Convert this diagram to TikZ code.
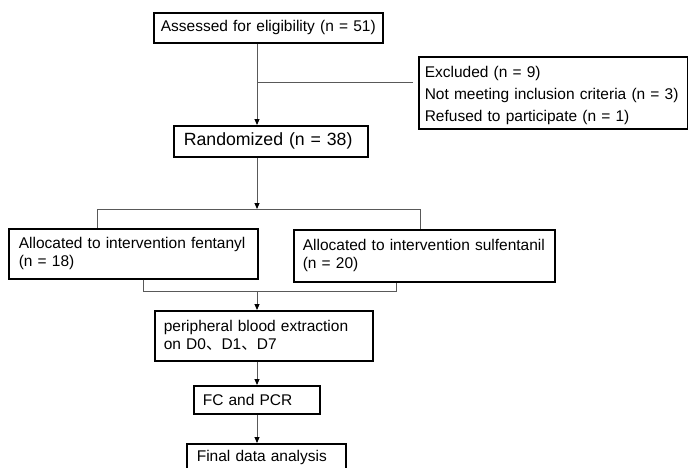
\documentclass[tikz,border=0pt]{standalone}
\usepackage{fontspec}
\setmainfont{Liberation Sans}
\newfontfamily\cjkfont{Noto Sans CJK SC}
\usetikzlibrary{arrows.meta}
\begin{document}
\begin{tikzpicture}[x=1pt,y=-1pt,
  box/.style={draw=black, line width=1.6pt, rectangle, anchor=north west,
    inner ysep=0pt, align=left, font=\fontsize{15.5}{18}\selectfont},
  conn/.style={draw=black!65, line width=0.9pt},
  arr/.style={conn, -{Triangle[length=6pt,width=5pt,color=black]}}
]
\clip (0,0) rectangle (688,467);
% boxes
\node[box, minimum width=229pt, minimum height=30pt, inner xsep=7pt, text width=215pt] (assess) at (153,12) {Assessed for eligibility (n = 51)};
\node[box, minimum width=269pt, minimum height=72pt, inner xsep=6pt, text width=257pt, font=\fontsize{15.5}{22}\selectfont] (excl) at (418,56) {\rule{0pt}{17pt}Excluded (n = 9)\\Not meeting inclusion criteria (n = 3)\\Refused to participate (n = 1)};
\node[box, minimum width=194pt, minimum height=31pt, inner xsep=10pt, text width=174pt, font=\fontsize{17.7}{20}\selectfont] (rand) at (173,125) {Randomized (n = 38)};
\node[box, minimum width=249pt, minimum height=50pt, inner xsep=10pt, text width=229pt] (fent) at (8,228) {Allocated to intervention fentanyl\\(n = 18)};
\node[box, minimum width=261pt, minimum height=52pt, inner xsep=9pt, text width=243pt] (sulf) at (293,229) {Allocated to intervention sulfentanil\\(n = 20)};
\node[box, minimum width=218pt, minimum height=50pt, inner xsep=9pt, text width=200pt] (blood) at (154,310) {peripheral blood extraction\\on D0{\cjkfont 、}D1{\cjkfont 、}D7};
\node[box, minimum width=126pt, minimum height=28pt, inner xsep=9pt, text width=108pt] (fc) at (193,385) {FC and PCR};
\node[box, minimum width=159pt, minimum height=28pt, inner xsep=10pt, text width=139pt] (final) at (186,443) {Final data analysis};
% helper coordinates
\coordinate (cx) at (257,0);
\coordinate (ey) at (0,82);
\coordinate (split) at (257,209);
\coordinate (sl) at (97,209);
\coordinate (sr) at (420,209);
\coordinate (ml) at (143,291);
\coordinate (mr) at (396,291);
\coordinate (mc) at (257,291);
% connectors
\draw[arr] (assess.south -| cx) -- (rand.north -| cx);
\draw[conn, shorten >=5pt] (cx |- ey) -- (excl.west |- ey);
\draw[arr] (rand.south -| cx) -- (split);
\draw[conn] (fent.north -| sl) -- (sl) -- (sr) -- (sulf.north -| sr);
\draw[conn] (fent.south -| ml) -- (ml) -- (mr) -- (sulf.south -| mr);
\draw[arr] (mc) -- (blood.north -| mc);
\draw[arr] (blood.south -| cx) -- (fc.north -| cx);
\draw[arr] (fc.south -| cx) -- (final.north -| cx);
\end{tikzpicture}
\end{document}
